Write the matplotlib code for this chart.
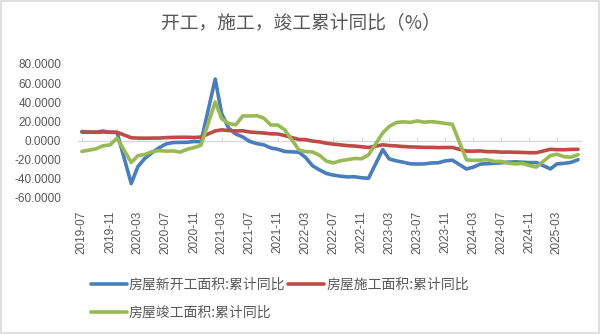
import matplotlib
matplotlib.use('Agg')
import matplotlib.pyplot as plt
import matplotlib.dates as mdates
from matplotlib.patches import Rectangle
import numpy as np
import pandas as pd

plt.rcParams['font.family'] = ['Noto Sans CJK SC', 'DejaVu Sans']

# monthly cumulative YoY (%), Jan is merged into Feb so it has no entry
months = ['2019-07', '2019-08', '2019-09', '2019-10', '2019-11', '2019-12',
          '2020-02', '2020-03', '2020-04', '2020-05', '2020-06', '2020-07',
          '2020-08', '2020-09', '2020-10', '2020-11', '2020-12',
          '2021-02', '2021-03', '2021-04', '2021-05', '2021-06', '2021-07',
          '2021-08', '2021-09', '2021-10', '2021-11', '2021-12',
          '2022-02', '2022-03', '2022-04', '2022-05', '2022-06', '2022-07',
          '2022-08', '2022-09', '2022-10', '2022-11', '2022-12',
          '2023-02', '2023-03', '2023-04', '2023-05', '2023-06', '2023-07',
          '2023-08', '2023-09', '2023-10', '2023-11', '2023-12',
          '2024-02', '2024-03', '2024-04', '2024-05', '2024-06', '2024-07',
          '2024-08', '2024-09', '2024-10', '2024-11', '2024-12',
          '2025-02', '2025-03', '2025-04', '2025-05', '2025-06']

new_starts = [9.5, 8.9, 8.6, 10.0, 8.6, 8.5,
              -44.9, -27.2, -18.4, -12.8, -7.6, -3.6, -2.1, -1.9, -1.8, -1.0, -1.2,
              64.3, 28.2, 12.8, 6.9, 3.8, -0.9, -3.2, -4.5, -7.7, -9.1, -11.4,
              -12.2, -17.5, -26.3, -30.6, -34.4, -36.1, -37.2, -38.0, -37.8, -38.9, -39.4,
              -9.4, -19.2, -21.2, -22.6, -24.3, -24.5, -24.4, -23.4, -23.2, -21.2, -20.4,
              -29.7, -27.8, -24.6, -24.2, -23.7, -23.2, -22.5, -22.2, -22.6, -23.0, -23.0,
              -29.6, -24.4, -23.8, -22.8, -20.0]

under_construction = [8.8, 8.8, 8.7, 9.0, 8.7, 8.7,
                      2.9, 2.6, 2.5, 2.6, 2.6, 3.1, 3.3, 3.5, 3.5, 3.2, 3.7,
                      10.1, 11.2, 10.5, 10.1, 10.2, 9.0, 8.4, 7.9, 7.1, 6.9, 5.2,
                      1.1, 1.0, -0.5, -1.3, -2.8, -3.7, -4.5, -5.3, -5.7, -6.5, -7.2,
                      -4.4, -5.2, -5.6, -6.2, -6.6, -6.8, -7.1, -7.1, -7.3, -7.2, -7.2,
                      -11.0, -11.1, -10.8, -11.6, -11.6, -12.1, -12.0, -12.2, -12.4, -12.7, -12.7,
                      -9.1, -9.5, -9.6, -9.2, -9.1]

completed = [-11.3, -10.0, -8.6, -5.5, -4.5, 2.6,
             -22.9, -15.8, -14.5, -11.6, -10.5, -11.0, -10.8, -12.1, -9.2, -7.3, -4.9,
             40.4, 22.9, 17.9, 16.4, 25.7, 25.7, 26.0, 23.4, 16.3, 16.2, 11.2,
             -9.8, -11.5, -11.9, -15.3, -21.5, -23.3, -21.1, -19.9, -18.7, -19.0, -15.0,
             8.0, 14.7, 18.8, 19.6, 19.0, 20.5, 19.2, 19.8, 19.0, 17.9, 17.0,
             -20.2, -20.7, -20.4, -20.1, -21.8, -21.8, -23.6, -24.4, -23.9, -26.0, -27.7,
             -15.6, -14.3, -16.9, -17.3, -14.8]

labels = ['房屋新开工面积:累计同比', '房屋施工面积:累计同比', '房屋竣工面积:累计同比']
colors = ['#4A7EBB', '#BE4B48', '#98B954']

dates = pd.to_datetime(months)

fig = plt.figure(figsize=(6.01, 3.34), dpi=100)
ax = fig.add_axes([78 / 601, 1 - 198 / 334, (581 - 78) / 601, (198 - 64) / 334])

lines = []
for ys, lab, c in zip([new_starts, under_construction, completed], labels, colors):
    ln, = ax.plot(dates, ys, color=c, lw=2.6, label=lab, solid_capstyle='round')
    lines.append(ln)

ax.set_ylim(-60, 80)
ax.set_xlim(dates[0] - pd.Timedelta(days=17), dates[-1] + pd.Timedelta(days=13))
ax.set_yticks(np.arange(-60, 81, 20))
ax.yaxis.set_major_formatter(matplotlib.ticker.FormatStrFormatter('%.4f'))
ax.tick_params(axis='y', length=0, pad=12, labelsize=8.5, labelcolor='#595959')
for t in ax.get_yticklabels():
    t.set_fontfamily(['Liberation Sans', 'DejaVu Sans'])

for s in ['top', 'right', 'left']:
    ax.spines[s].set_visible(False)
ax.spines['bottom'].set_position(('data', 0))
ax.spines['bottom'].set_color('#D9D9D9')
ax.spines['bottom'].set_linewidth(1.0)
ax.spines['bottom'].set_zorder(0)

tick_dates = pd.date_range('2019-07-01', '2025-06-01', freq='4MS')
ax.set_xticks(tick_dates)
ax.tick_params(axis='x', direction='in', length=3, color='#D9D9D9', labelbottom=False)

# labels sit at the bottom of the plot, not on the zero line
sec = ax.secondary_xaxis('bottom')
sec.set_xticks(tick_dates)
sec.xaxis.set_major_formatter(mdates.DateFormatter('%Y-%m'))
sec.tick_params(axis='x', length=0, pad=9, labelsize=8.5, labelcolor='#595959', rotation=90)
sec.spines['bottom'].set_visible(False)
for t in sec.get_xticklabels():
    t.set_fontfamily(['Liberation Sans', 'DejaVu Sans'])

fig.text(0.5, 1 - 23 / 334, '开工，施工，竣工累计同比（%）', ha='center', va='center',
         fontsize=13.5, color='#595959', fontweight='light')

# legend fills column-wise, so order it to read row by row
order = [0, 2, 1]
fig.legend([lines[i] for i in order], [labels[i] for i in order],
           loc='upper left', bbox_to_anchor=(85 / 601, 1 - 272 / 334),
           ncol=2, frameon=False, fontsize=10, labelcolor='#595959',
           handlelength=2.6, handletextpad=0.15, columnspacing=0.2, labelspacing=1.0,
           borderaxespad=0)

fig.add_artist(Rectangle((0.002, 0.004), 0.995, 0.992, transform=fig.transFigure,
                         fill=False, edgecolor='#D9D9D9', lw=1.2))

fig.savefig('out.png', dpi=100)
